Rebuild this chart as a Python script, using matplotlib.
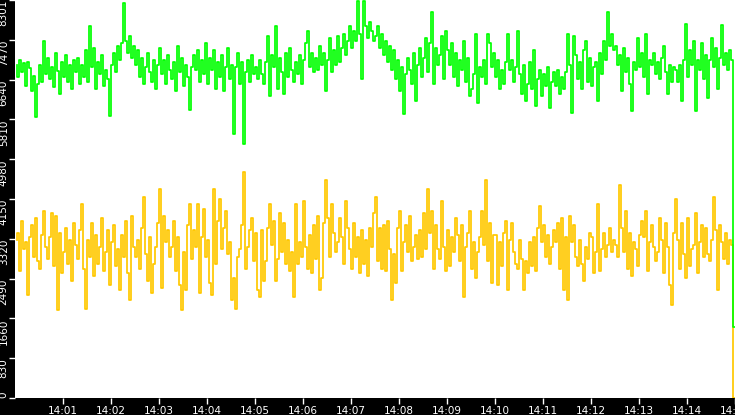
import numpy as np
import matplotlib
matplotlib.use("Agg")
import matplotlib.pyplot as plt
from matplotlib.ticker import FixedLocator, FuncFormatter

# sample values (one every 2.5 s, 14:00 - 14:15)
green_vals = [
    6950, 6700, 7050, 6800, 6980, 6500, 7000, 6880, 6400, 6720, 5870, 6550, 6950, 6600, 7450, 6750, 7100, 6650, 6900, 6480, 7200, 6820, 6350, 7000, 6700, 7150, 6600, 6950, 6450, 7050,
    6800, 7100, 6550, 6950, 6700, 7250, 6600, 7760, 6900, 7300, 6450, 7000, 6750, 7150, 6500, 6850, 6650, 5880, 6950, 7200, 6800, 7350, 7050, 7400, 8230, 7450, 7200, 7550, 7100, 7350,
    6950, 7250, 6700, 7100, 6550, 6900, 7200, 6800, 6600, 7050, 6450, 6950, 7300, 6750, 7050, 6550, 7150, 6850, 6650, 7000, 6400, 7350, 6800, 7100, 6500, 6950, 6700, 6000, 6900, 7150,
    6850, 7250, 6600, 7050, 6750, 7400, 6550, 7100, 6850, 7250, 6450, 7000, 6700, 7150, 6400, 6900, 7300, 6650, 6950, 5500, 6900, 7200, 6550, 7000, 5290, 6800, 7050, 6600, 7150, 6750,
    6900, 6650, 7050, 6750, 6550, 7000, 7550, 6300, 7150, 6900, 7750, 6450, 7100, 6800, 6350, 7200, 6700, 7300, 6850, 6600, 7000, 6750, 7150, 6550, 7050, 7400, 7650, 6900, 7200, 6800,
    7100, 6850, 7350, 6950, 7200, 6400, 7050, 7500, 6800, 7250, 6950, 7550, 7000, 7300, 7600, 7150, 7450, 7750, 7300, 7650, 7450, 8280, 7600, 6650, 8290, 7750, 7500, 7850, 7650, 7450,
    7550, 7750, 7300, 7600, 7150, 7450, 7000, 7350, 6850, 7250, 6650, 7050, 6400, 6900, 5920, 6750, 7100, 6850, 6550, 7200, 6200, 6950, 7300, 6700, 7100, 7500, 6800, 7400, 8050, 6550,
    7300, 6950, 7150, 7550, 6650, 7650, 7250, 6950, 7400, 6700, 7200, 6500, 7050, 6850, 7450, 6600, 7100, 6300, 6450, 6750, 7600, 6150, 6900, 6700, 7050, 6550, 7600, 7400, 6900, 7200,
    6700, 7050, 6450, 6850, 6550, 7000, 7600, 6850, 7050, 6600, 6900, 7650, 6750, 6350, 6950, 6200, 6550, 7000, 6450, 7250, 6100, 6650, 6850, 6300, 6750, 6500, 6900, 6050, 6600, 6800,
    6500, 6850, 6350, 6700, 6450, 6800, 7600, 6950, 5950, 7550, 7150, 6650, 7000, 6450, 7250, 7450, 6600, 7100, 6500, 6900, 7000, 6200, 7200, 6750, 7450, 7050, 8050, 7350, 7600, 7250,
    7350, 6950, 7150, 6400, 7300, 6800, 7100, 6550, 5980, 7000, 6850, 7500, 6900, 7200, 6700, 7600, 6350, 7050, 6950, 7200, 6750, 7000, 6650, 7100, 7350, 6800, 6350, 6950, 6600, 6900,
    6850, 6600, 6950, 6200, 7050, 7800, 6700, 7250, 6950, 7450, 5980, 7050, 6850, 7400, 6650, 7150, 6250, 7050, 7500, 6900, 7300, 6450, 7100, 7780, 6950, 7200, 6850, 7250, 7050, 1480,
]

yellow_vals = [
    3300, 3450, 2650, 3700, 3100, 3250, 2150, 3350, 3600, 2950, 3750, 2850, 2700, 3400, 3900, 3150, 2900, 3350, 3850, 2750, 3800, 1830, 3450, 2600, 3050, 3550, 2800, 3300, 2450, 3650,
    3200, 2900, 3500, 4050, 2700, 1850, 3300, 2950, 3650, 2550, 3400, 2800, 3150, 3750, 2650, 3050, 3500, 2350, 3250, 3600, 2750, 3100, 2250, 3400, 2950, 3700, 2600, 2050, 3800, 3150,
    2950, 3300, 2700, 3550, 4200, 3000, 2450, 3350, 2200, 2800, 3150, 3650, 4350, 2300, 3800, 3250, 3500, 2950, 3150, 3700, 2650, 3350, 2350, 1830, 3050, 2250, 3600, 4050, 2900, 3500,
    3150, 4050, 2200, 3350, 3950, 2950, 3300, 2400, 2150, 4350, 2800, 3700, 4150, 3100, 3550, 3900, 3000, 3250, 2050, 2500, 1850, 2950, 3100, 3600, 4720, 2700, 3150, 3500, 3750, 2850,
    3450, 2250, 2100, 3500, 2450, 2850, 3550, 4050, 3200, 3700, 2450, 2900, 3850, 3050, 3650, 2800, 3300, 2650, 3050, 2100, 4050, 2800, 3250, 2950, 4100, 3150, 2700, 3400, 2600, 3600,
    2900, 3800, 2250, 2500, 3650, 4550, 3750, 2950, 4050, 3450, 3050, 3250, 3750, 3350, 2800, 4100, 3550, 3100, 2700, 3650, 2950, 3350, 2600, 3500, 2800, 3300, 2550, 3550, 3150, 3850,
    4200, 2850, 3550, 2700, 3600, 2650, 3700, 3100, 2050, 3000, 2400, 3550, 3900, 2650, 3250, 3600, 3050, 3800, 2850, 3150, 3400, 2900, 3500, 2950, 3850, 3100, 4350, 3450, 3900, 2700,
    3600, 3100, 2900, 4100, 3150, 2650, 3500, 2750, 3350, 3050, 3750, 3400, 2850, 3600, 2100, 3150, 3450, 3900, 2700, 3250, 2500, 3050, 3350, 3900, 3200, 4550, 2850, 3650, 2400, 3400,
    3400, 2350, 3250, 2750, 3450, 3700, 2250, 3300, 3650, 3050, 2800, 2700, 3300, 2900, 2250, 2850, 2600, 3250, 2750, 3350, 2650, 3550, 4000, 3250, 3600, 2950, 3400, 2800, 3150, 3500,
    3250, 3650, 2700, 3750, 2250, 3350, 2050, 3800, 3250, 3600, 2950, 2750, 3300, 2800, 2450, 3150, 2900, 3450, 3350, 2600, 3050, 4050, 2650, 3100, 3450, 2950, 3200, 3550, 3050, 3300,
    3200, 2950, 4450, 3550, 3050, 3900, 2700, 3450, 2550, 3250, 3100, 2750, 3400, 3700, 3350, 3900, 2650, 3250, 3600, 3150, 2850, 3050, 3750, 3300, 2600, 3650, 3150, 2350, 1950, 3450,
    4150, 3300, 2700, 3650, 3000, 2500, 3750, 2750, 3100, 3200, 3850, 2600, 3250, 3600, 2950, 3550, 3000, 2850, 3300, 4200, 3500, 2250, 3600, 3250, 2900, 3450, 2800, 3300, 3200, 0,
]

y_max = 8301
span_s = 900
minute_labels = ["14:%02d" % m for m in range(1, 16)]


def sample_times(vals):
    n = len(vals)
    return np.arange(1, n + 1) * (span_s / n)


fig = plt.figure(figsize=(7.35, 4.15), dpi=100, facecolor="black")
ax = fig.add_axes([15 / 735, 17 / 415, 720 / 735, 398 / 415])
ax.set_facecolor("white")

ax.plot(sample_times(yellow_vals), yellow_vals, color="#ffc800", lw=1.25,
        drawstyle="steps-pre")
ax.plot(sample_times(green_vals), green_vals, color="#00ff00", lw=1.25,
        drawstyle="steps-pre")

ax.set_xlim(0, span_s)
ax.set_ylim(0, y_max)

yticks = np.linspace(0, y_max, 11)
ax.yaxis.set_major_locator(FixedLocator(yticks))
ax.yaxis.set_major_formatter(FuncFormatter(lambda v, p: "%d" % int(v)))
ax.xaxis.set_major_locator(FixedLocator(np.arange(60, span_s + 1, 60)))
ax.set_xticklabels(minute_labels)

for s in ax.spines.values():
    s.set_visible(False)

ax.tick_params(axis="both", colors="white", labelcolor="white", labelsize=7.5,
               length=4.5, width=1, direction="out")
ax.tick_params(axis="y", pad=0)
ax.tick_params(axis="x", pad=1)

for i, lab in enumerate(ax.get_yticklabels()):
    lab.set_rotation(90)
    lab.set_ha("right")
    lab.set_va("bottom" if i == 0 else "top")

fig.savefig("out.png", dpi=100, facecolor="black")
